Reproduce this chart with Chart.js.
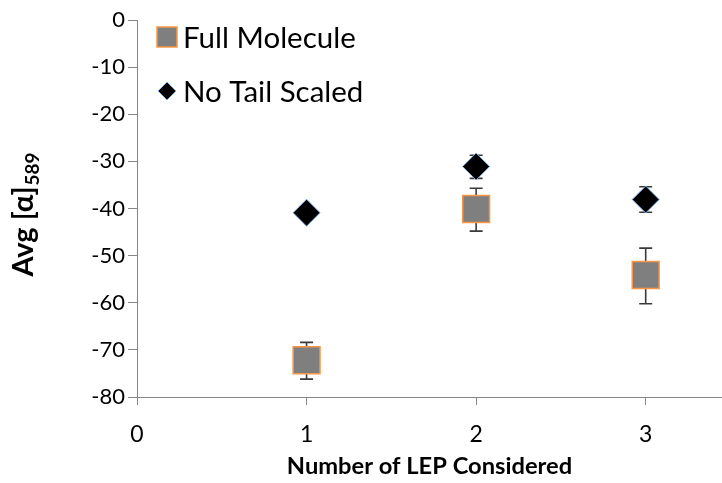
<!DOCTYPE html>
<html>
<head>
<meta charset="utf-8">
<script src="https://cdn.jsdelivr.net/npm/chart.js@4.4.1/dist/chart.umd.min.js"></script>
<style>
html, body { margin: 0; padding: 0; background: #fff; overflow: hidden; }
#wrap { width: 722px; height: 483px; }
canvas { display: block; }
</style>
</head>
<body>
<div id="wrap"><canvas id="myChart"></canvas></div>
<script>
// values
const lepCounts = [1, 2, 3];
const fullMolecule = [-72.2, -40.1, -54.1];
const fullMoleculeHigh = [-68.4, -35.7, -48.4];
const fullMoleculeLow = [-76.2, -44.8, -60.2];
const noTailScaled = [-40.9, -31.1, -38.1];
const noTailHigh = [-40.2, -28.7, -35.4];
const noTailLow = [-41.6, -33.6, -40.8];
const xTicks = [0, 1, 2, 3];
const yTicks = [0, -10, -20, -30, -40, -50, -60, -70, -80];

const FONT = 'Lato, "Open Sans", sans-serif';
const axisGray = '#868686';

function points(ys, hi, lo) {
    return lepCounts.map((x, i) => ({ x: x, y: ys[i], hi: hi[i], lo: lo[i] }));
}

const data = {
    datasets: [{
        label: 'Full Molecule',
        data: points(fullMolecule, fullMoleculeHigh, fullMoleculeLow),
        pointStyle: 'rect',
        pointRadius: 19,
        pointHoverRadius: 19,
        backgroundColor: '#7f7f7f',
        borderColor: '#f79646',
        borderWidth: 1.5,
    }, {
        label: 'No Tail Scaled',
        data: points(noTailScaled, noTailHigh, noTailLow),
        pointStyle: 'rectRot',
        pointRadius: 13.5,
        pointHoverRadius: 13.5,
        backgroundColor: '#000000',
        borderColor: '#7fb2e6',
        borderWidth: 1,
    }]
};

// error bars, drawn under the markers
const errorBars = {
    id: 'errorBars',
    beforeDatasetsDraw(chart) {
        const ctx = chart.ctx;
        const xs = chart.scales.x, ys = chart.scales.y;
        ctx.save();
        ctx.strokeStyle = '#3a3a3a';
        ctx.lineWidth = 1.6;
        chart.data.datasets.forEach(ds => {
            ds.data.forEach(p => {
                const px = xs.getPixelForValue(p.x);
                const top = ys.getPixelForValue(p.hi);
                const bot = ys.getPixelForValue(p.lo);
                ctx.beginPath();
                ctx.moveTo(px, top); ctx.lineTo(px, bot);
                ctx.moveTo(px - 6.5, top); ctx.lineTo(px + 6.5, top);
                ctx.moveTo(px - 6.5, bot); ctx.lineTo(px + 6.5, bot);
                ctx.stroke();
            });
        });
        ctx.restore();
    }
};

// legend inside the plot and y title with subscript
const extras = {
    id: 'extras',
    afterDraw(chart) {
        const ctx = chart.ctx;
        ctx.save();
        const ds = chart.data.datasets;
        const rows = [37, 91];
        ds.forEach((d, i) => {
            const cy = rows[i];
            const cx = 167;
            ctx.fillStyle = d.backgroundColor;
            ctx.strokeStyle = d.borderColor;
            ctx.lineWidth = d.borderWidth;
            ctx.beginPath();
            if (d.pointStyle === 'rect') {
                ctx.rect(cx - 10, cy - 10, 20, 20);
            } else {
                ctx.moveTo(cx, cy - 9); ctx.lineTo(cx + 9, cy);
                ctx.lineTo(cx, cy + 9); ctx.lineTo(cx - 9, cy);
                ctx.closePath();
            }
            ctx.fill();
            ctx.stroke();
            ctx.fillStyle = '#000';
            ctx.font = '29.5px ' + FONT;
            ctx.textAlign = 'left';
            ctx.textBaseline = 'middle';
            ctx.fillText(d.label, 183, cy + 1);
        });

        // y axis title: Avg [α]589
        ctx.translate(24, 215);
        ctx.rotate(-Math.PI / 2);
        ctx.fillStyle = '#000';
        ctx.textBaseline = 'middle';
        ctx.textAlign = 'left';
        const mainFont = 'bold 29px ' + FONT;
        const subFont = 'bold 19px ' + FONT;
        ctx.font = mainFont;
        const main = 'Avg [\u03b1]';
        const w1 = ctx.measureText(main).width;
        ctx.font = subFont;
        const w2 = ctx.measureText('589').width;
        const start = -(w1 + w2) / 2;
        ctx.font = mainFont;
        ctx.fillText(main, start, 0);
        ctx.font = subFont;
        ctx.fillText('589', start + w1 + 1, 9);
        ctx.restore();
    }
};

const config = {
    type: 'scatter',
    data: data,
    options: {
        responsive: true,
        maintainAspectRatio: false,
        animation: false,
        layout: { autoPadding: false, padding: { top: 20, right: 0, left: 0, bottom: 0 } },
        plugins: {
            legend: { display: false },
            tooltip: { enabled: false },
        },
        scales: {
            x: {
                type: 'linear',
                min: 0,
                max: 3.45,
                afterBuildTicks: s => { s.ticks = xTicks.map(v => ({ value: v })); },
                afterFit: s => { s.height = 86; s.paddingRight = 0; },
                grid: { drawOnChartArea: false, color: axisGray, tickLength: 8 },
                border: { color: axisGray, width: 1 },
                ticks: { color: '#000', font: { family: FONT, size: 23 }, padding: 16 },
                title: {
                    display: true,
                    text: 'Number of LEP Considered',
                    color: '#000',
                    font: { family: FONT, size: 23.7, weight: 'bold' },
                    padding: { top: 0, bottom: 2 },
                },
            },
            y: {
                min: -80,
                max: 0,
                afterBuildTicks: s => { s.ticks = yTicks.map(v => ({ value: v })); },
                afterFit: s => { s.width = 137; },
                grid: { drawOnChartArea: false, color: axisGray, tickLength: 9 },
                border: { color: axisGray, width: 1 },
                ticks: { color: '#000', font: { family: FONT, size: 22 }, padding: 3 },
            },
        },
    },
    plugins: [errorBars, extras],
};

const myChart = new Chart(document.getElementById('myChart'), config);
</script>
</body>
</html>
